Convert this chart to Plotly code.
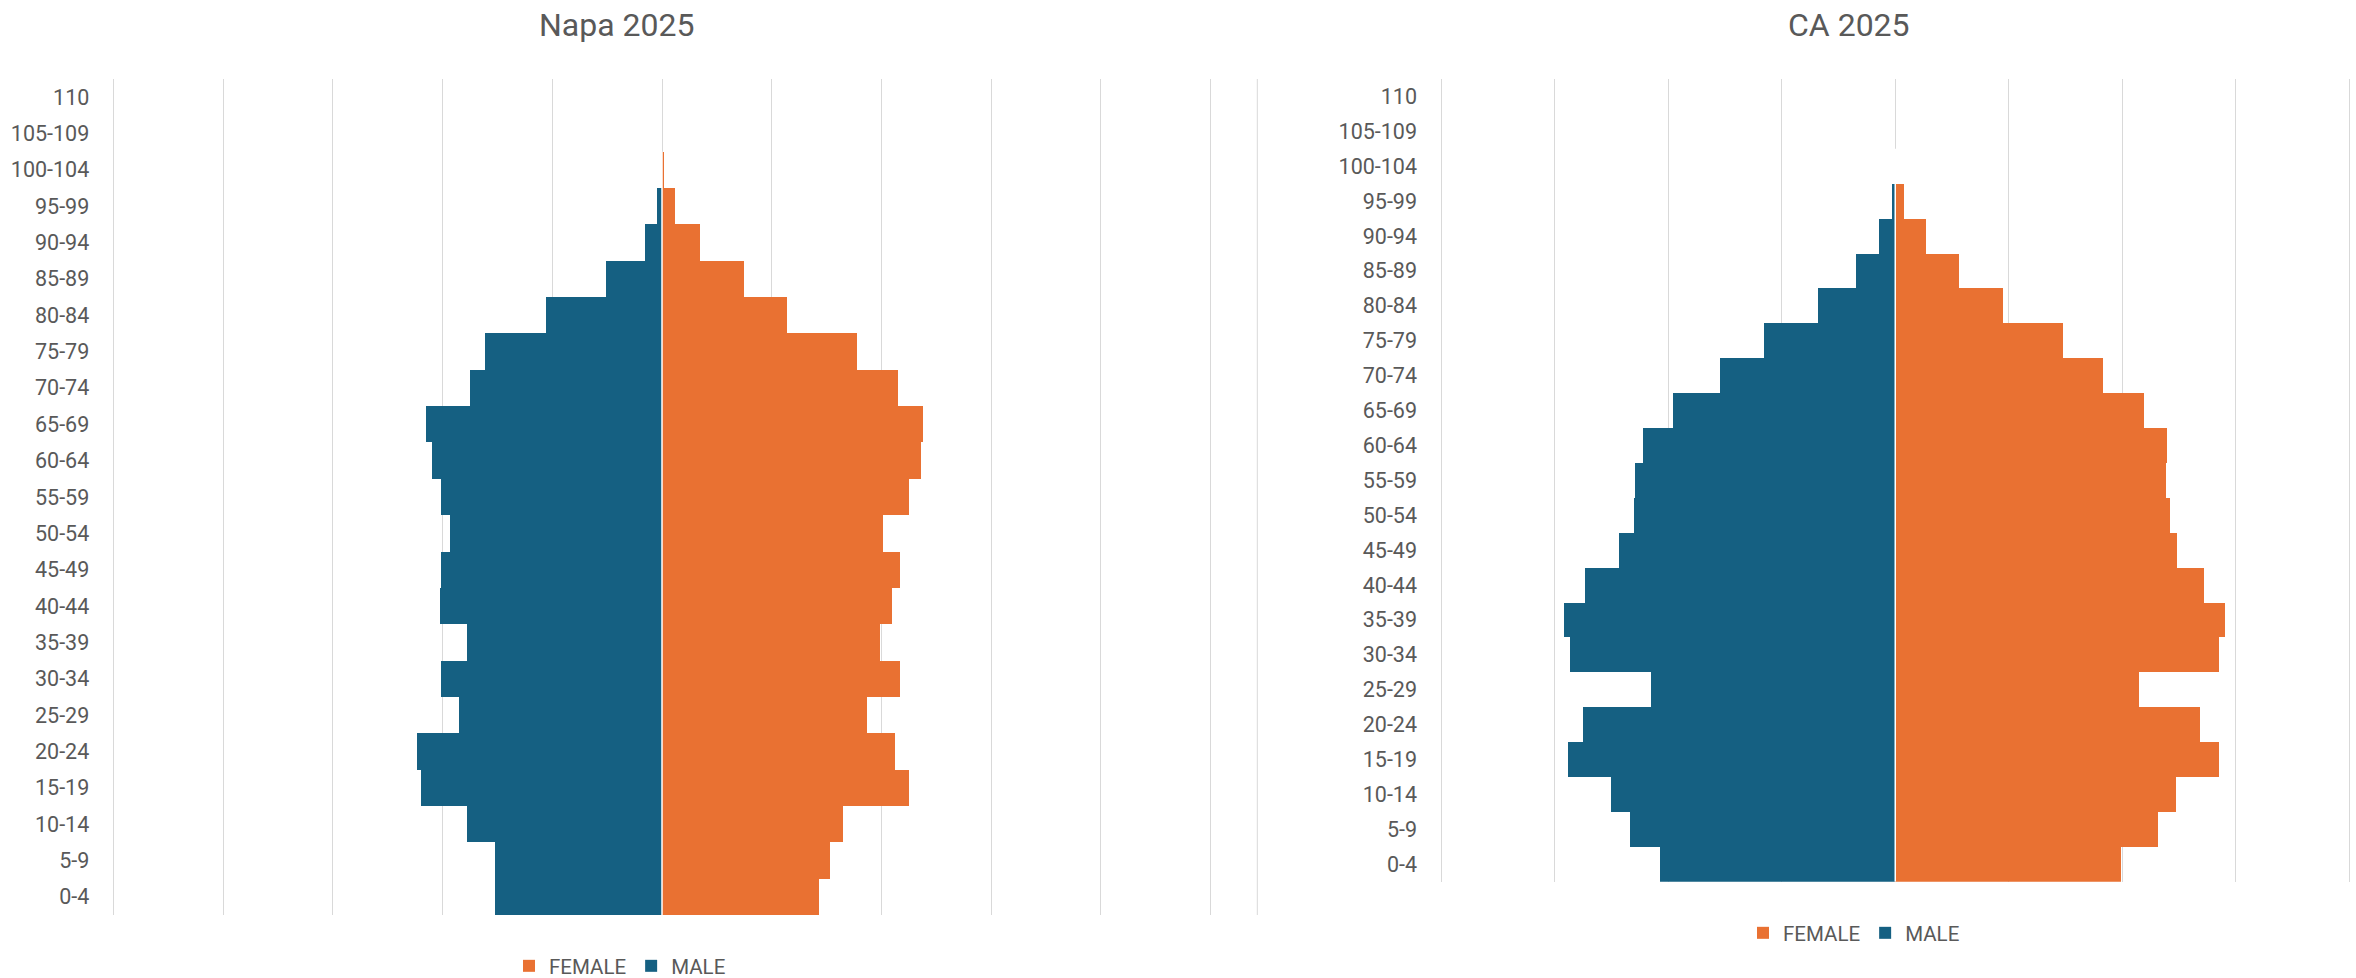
import plotly.graph_objects as go

W, H = 2356, 978

age_groups = ["0-4", "5-9", "10-14", "15-19", "20-24", "25-29", "30-34", "35-39",
              "40-44", "45-49", "50-54", "55-59", "60-64", "65-69", "70-74", "75-79",
              "80-84", "85-89", "90-94", "95-99", "100-104", "105-109", "110"]

napa_male = [3040, 3040, 3540, 4380, 4460, 3700, 4020, 3540, 4040, 4020, 3860, 4020,
             4180, 4300, 3500, 3220, 2100, 1020, 300, 80, 0, 0, 0]
napa_female = [2860, 3060, 3300, 4500, 4260, 3740, 4340, 3980, 4200, 4340, 4040, 4500,
               4720, 4760, 4300, 3560, 2280, 1500, 700, 240, 50, 0, 0]

ca_male = [1035000, 1170000, 1250000, 1440000, 1375000, 1075000, 1430000, 1460000,
           1365000, 1215000, 1150000, 1145000, 1110000, 980000, 770000, 580000,
           340000, 175000, 70000, 14000, 0, 0, 0]
ca_female = [995000, 1155000, 1235000, 1425000, 1340000, 1075000, 1425000, 1450000,
             1360000, 1240000, 1210000, 1190000, 1195000, 1095000, 915000, 740000,
             475000, 280000, 135000, 40000, 2000, 0, 0]

titles = ["Napa 2025", "CA 2025"]
series_names = ["FEMALE", "MALE"]

BLUE = "#156082"
ORANGE = "#E97132"
GRID = "#D9D9D9"
TEXT = "#595959"
FONT = "Roboto"

fig = go.Figure()

def add_pyramid(female, male, xa, ya, legend):
    fig.add_trace(go.Bar(y=age_groups, x=female, orientation="h", name=series_names[0],
                         marker=dict(color=ORANGE, line=dict(width=0)),
                         xaxis=xa, yaxis=ya, legend=legend))
    fig.add_trace(go.Bar(y=age_groups, x=[-v for v in male], orientation="h", name=series_names[1],
                         marker=dict(color=BLUE, line=dict(width=0)),
                         xaxis=xa, yaxis=ya, legend=legend))

add_pyramid(napa_female, napa_male, "x", "y", "legend")
add_pyramid(ca_female, ca_male, "x2", "y2", "legend2")

def px(xp):
    return xp / W

def py(yp):
    return 1 - yp / H

# pad each x axis by a few pixels so that the outermost gridlines are drawn
PAD = 3
l_left, l_right = 113.3, 1210.7          # pixel positions of outer gridlines (Napa)
r_left, r_right = 1441.0, 2349.5         # pixel positions of outer gridlines (CA)
napa_half = 10000
ca_half = 2000000
napa_pad = napa_half * 2 * PAD / (l_right - l_left)
ca_pad = ca_half * 2 * PAD / (r_right - r_left)

xcommon = dict(showticklabels=False, showgrid=True, gridcolor=GRID, gridwidth=1,
               zeroline=False, showline=False, ticks="", fixedrange=True)
ycommon = dict(type="category", categoryorder="array", categoryarray=age_groups,
               range=[-0.5, len(age_groups) - 0.5], showgrid=False, zeroline=False,
               showline=False, ticks="", ticklabelstandoff=20,
               tickfont=dict(family=FONT, size=21.5, color=TEXT))

fig.update_layout(
    width=W, height=H,
    margin=dict(l=0, r=0, t=0, b=0, autoexpand=False),
    paper_bgcolor="white", plot_bgcolor="white",
    barmode="relative", bargap=0,
    font=dict(family=FONT, color=TEXT),
    xaxis=dict(domain=[px(l_left - PAD), px(l_right + PAD)],
               range=[-napa_half - napa_pad, napa_half + napa_pad], tick0=0, dtick=2000,
               anchor="y", **xcommon),
    yaxis=dict(domain=[py(915), py(79)], anchor="x", **ycommon),
    xaxis2=dict(domain=[px(r_left - PAD), px(r_right + PAD)],
                range=[-ca_half - ca_pad, ca_half + ca_pad], tick0=0, dtick=500000,
                anchor="y2", **xcommon),
    yaxis2=dict(domain=[py(881.7), py(79)], anchor="x2", **ycommon),
    legend=dict(orientation="h", x=px(620), y=py(966), xanchor="center", yanchor="middle",
                font=dict(family=FONT, size=20.5, color=TEXT), traceorder="normal",
                bgcolor="rgba(0,0,0,0)"),
    legend2=dict(orientation="h", x=px(1854), y=py(933), xanchor="center", yanchor="middle",
                 font=dict(family=FONT, size=20.5, color=TEXT), traceorder="normal",
                 bgcolor="rgba(0,0,0,0)"),
    showlegend=True,
)

# chart titles
for t, xc in zip(titles, [616.7, 1849]):
    fig.add_annotation(text=t, xref="paper", yref="paper", x=px(xc), y=py(25),
                       xanchor="center", yanchor="middle", showarrow=False,
                       font=dict(family=FONT, size=32, color=TEXT))

# white separator between male and female bars
for xr, yr in [("x", "y"), ("x2", "y2")]:
    fig.add_shape(type="line", xref=xr, yref=yr, x0=0, x1=0, y0=-0.5, y1=20.5,
                  line=dict(color="white", width=1.5), layer="above")

# thin divider line between the two charts
fig.add_shape(type="line", xref="paper", yref="paper", x0=px(1257.3), x1=px(1257.3),
              y0=py(915), y1=py(79), line=dict(color=GRID, width=1), layer="below")

fig.write_html("out.html")
